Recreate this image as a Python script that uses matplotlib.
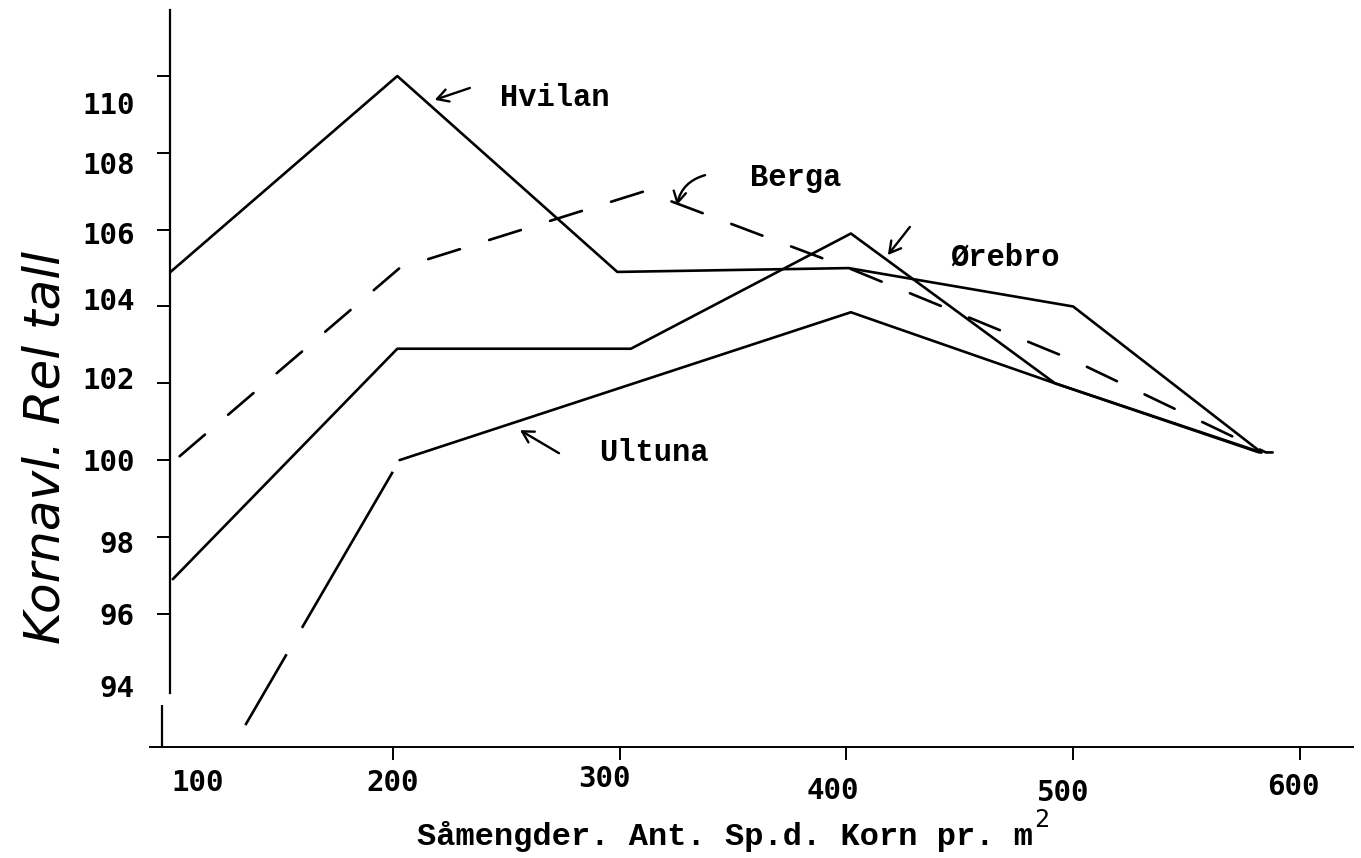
import matplotlib
matplotlib.use("Agg")
import matplotlib.pyplot as plt
from matplotlib.transforms import ScaledTranslation

plt.rcParams['lines.scale_dashes'] = False

# ---- data ----
hvilan_x = [102, 202, 299, 401, 500, 583]
hvilan_y = [104.9, 110.0, 104.9, 105.0, 104.0, 100.2]

berga_x = [106, 203, 311, 401, 500, 585, 588]
berga_y = [100.1, 105.0, 107.0, 105.0, 102.6, 100.2, 100.2]

orebro_x = [103, 202, 305, 402, 492, 582]
orebro_y = [96.9, 102.9, 102.9, 105.9, 102.0, 100.2]

ultuna_x = [135, 203, 402, 492, 583]
ultuna_y = [93.1, 100.0, 103.85, 102.0, 100.2]

x_ticks = [100, 200, 300, 400, 500, 600]
y_ticks = [94, 96, 98, 100, 102, 104, 106, 108, 110]

series_names = ["Hvilan", "Berga", "Ørebro", "Ultuna"]
xlabel_text = "Såmengder. Ant. Sp.d. Korn pr. m"
ylabel_text = "Kornavl. Rel tall"

# ---- figure ----
W, H = 1361, 858
fig = plt.figure(figsize=(W / 100, H / 100), dpi=100)
fig.patch.set_facecolor("white")
ax = fig.add_axes([150 / W, 111 / H, (1353 - 150) / W, (747 - 10) / H])
ax.set_xlim(92.95, 623.4)
ax.set_ylim(92.53, 111.72)

lw = 1.9
col = "black"
ax.plot(hvilan_x, hvilan_y, color=col, lw=lw, solid_capstyle="round")
ax.plot(berga_x, berga_y, color=col, lw=lw, dashes=(24, 22), dash_capstyle="round")
ax.plot(orebro_x, orebro_y, color=col, lw=lw, solid_capstyle="round")
ax.plot(ultuna_x[:2], ultuna_y[:2], color=col, lw=lw, dashes=(59, 22, 130, 100))
ax.plot(ultuna_x[1:], ultuna_y[1:], color=col, lw=lw, solid_capstyle="round")

# spines
for s in ["top", "right"]:
    ax.spines[s].set_visible(False)
ax.spines["left"].set_position(("data", 101.8))
ax.spines["left"].set_bounds(93.93, 111.72)
ax.spines["left"].set_linewidth(1.6)
ax.spines["bottom"].set_linewidth(1.4)
ax.vlines(98.2, 92.53, 93.62, color=col, lw=1.6, clip_on=False)

# ticks
ax.set_xticks(x_ticks)
ax.set_xticklabels([str(v) for v in x_ticks])
ax.set_yticks(y_ticks)
ax.set_yticklabels([str(v) for v in y_ticks])
ax.tick_params(axis="x", direction="out", length=9.5, width=1.4, pad=6,
               labelsize=21)
ax.tick_params(axis="y", direction="out", length=9.5, width=1.4, pad=16,
               labelsize=21)
for lab in ax.get_xticklabels() + ax.get_yticklabels():
    lab.set_family("DejaVu Sans Mono")
    lab.set_fontweight("bold")
ax.xaxis.get_major_ticks()[0].tick1line.set_visible(False)
ax.yaxis.get_major_ticks()[0].tick1line.set_visible(False)

# hand-typed label offsets (pixels)
x_off = [(32, 0), (0, 0), (-15, 4), (-14, -8), (-10, -10), (-7, -4)]
y_off = [(0, 5), (0, 0), (0, -5), (0, 0), (0, 5), (0, 7), (0, -3), (0, -10), (0, -27)]
for lab, (dx, dy) in zip(ax.get_xticklabels(), x_off):
    lab.set_transform(lab.get_transform() + ScaledTranslation(dx / 100, dy / 100, fig.dpi_scale_trans))
for lab, (dx, dy) in zip(ax.get_yticklabels(), y_off):
    lab.set_transform(lab.get_transform() + ScaledTranslation(dx / 100, dy / 100, fig.dpi_scale_trans))

# series labels and arrows
mono = "Liberation Mono"
lab_pos = [(247.3, 109.43), (357.5, 107.34), (445.7, 105.26), (290.9, 100.18)]
for name, (tx, ty) in zip(series_names, lab_pos):
    ax.text(tx, ty, name, family=mono, fontsize=22, ha="left", va="center",
            fontweight="bold")

arrows = [((234.0, 109.69), (218.5, 109.38), 0.0),
          ((337.7, 107.42), (325.3, 106.64), 0.3),
          ((428.0, 106.07), (418.3, 105.34), 0.0),
          ((273.3, 100.18), (256.1, 100.78), 0.0)]
for tail, tip, rad in arrows:
    ax.annotate("", xy=tip, xytext=tail,
                arrowprops=dict(arrowstyle="->, head_length=0.8, head_width=0.45",
                                lw=1.7, color=col,
                                connectionstyle=f"arc3,rad={rad}",
                                shrinkA=0, shrinkB=0))

# axis labels
xl = fig.text(725 / W, 1 - 836 / H, xlabel_text, family=mono, fontsize=23,
              ha="center", va="center", fontweight="bold")
ax.annotate("2", xy=(1, 0.62), xycoords=xl, xytext=(1, 0), textcoords="offset points",
            family="DejaVu Sans Mono", fontsize=18, ha="left", va="bottom",
            annotation_clip=False)

fig.text(46 / W, 1 - 447 / H, ylabel_text, rotation=90, ha="center", va="center",
         fontsize=36, style="italic", family="DejaVu Sans", weight="light")

fig.savefig("out.png", dpi=100, facecolor="white")
